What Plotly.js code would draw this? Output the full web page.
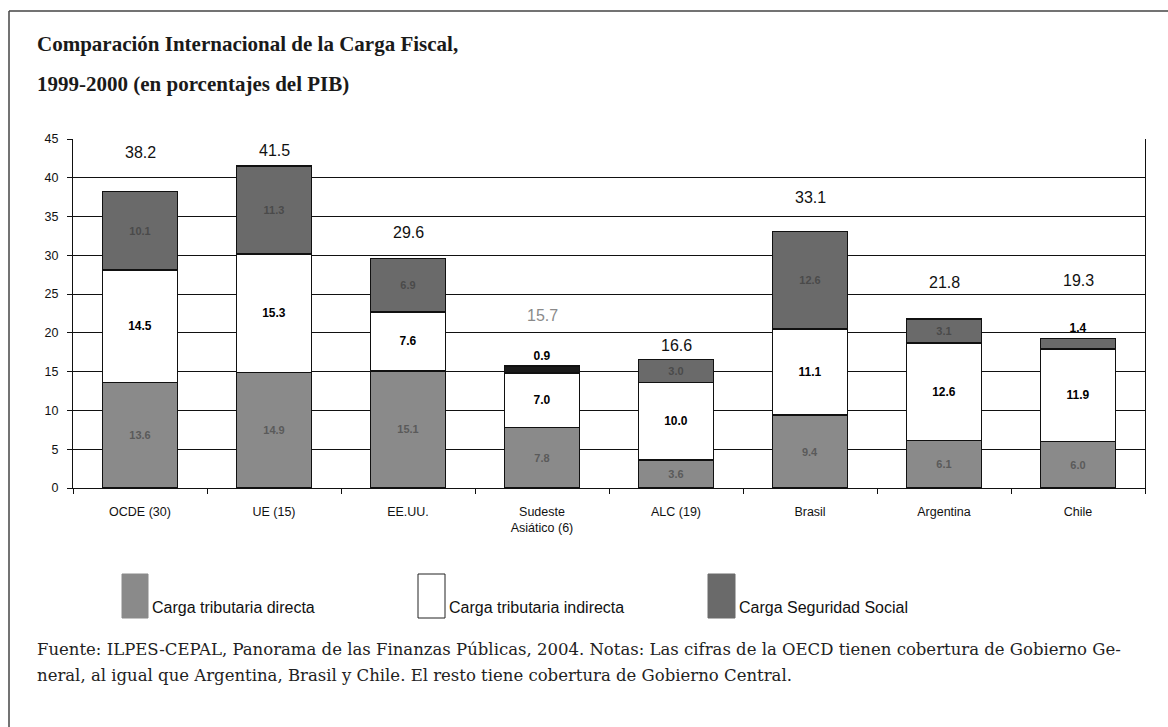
<!DOCTYPE html>
<html>
<head>
<meta charset="utf-8">
<script src="https://cdn.plot.ly/plotly-3.0.1.min.js"></script>
<style>
html,body{margin:0;padding:0;background:#fff;}
#chart{width:1168px;height:727px;}
</style>
</head>
<body>
<div id="chart"></div>
<script>
// ---- data ----
const categories = ["OCDE (30)", "UE (15)", "EE.UU.", "Sudeste<br>Asiático (6)", "ALC (19)", "Brasil", "Argentina", "Chile"];
const directa   = [13.6, 14.9, 15.1, 7.8, 3.6, 9.4, 6.1, 6.0];
const indirecta = [14.5, 15.3, 7.6, 7.0, 10.0, 11.1, 12.6, 11.9];
const seguridad = [10.1, 11.3, 6.9, 0.9, 3.0, 12.6, 3.1, 1.4];
const totales   = [38.2, 41.5, 29.6, 15.7, 16.6, 33.1, 21.8, 19.3];
const seriesNames = ["Carga tributaria directa", "Carga tributaria indirecta", "Carga Seguridad Social"];
const yTicks = [0, 5, 10, 15, 20, 25, 30, 35, 40, 45];

// ---- styling / placement (not data) ----
const totalLabelLift = [5.1, 2.0, 3.3, 6.5, 1.8, 4.4, 4.7, 7.5];
const ssTextPos = ["inside","inside","inside","outside","inside","inside","inside","outside"];
const colDirect = "#8a8a8a", colSS = "#6a6a6a";

const L = 73, R = 1145, T = 139, B = 488;
const px = v => (v - L) / (R - L);
const py = v => (B - v) / (B - T);

const fmt = a => a.map(v => v.toFixed(1));
const lineStyle = {color: "#111", width: 1.5};

const traces = [
  {type: "bar", name: seriesNames[0], x: categories, y: directa, text: fmt(directa),
   textposition: "inside", insidetextanchor: "middle", textangle: 0,
   textfont: {family: "Arial", size: 11, color: "#5a5a5a", weight: "bold"},
   marker: {color: colDirect, line: lineStyle}, width: 0.56},
  {type: "bar", name: seriesNames[1], x: categories, y: indirecta, text: fmt(indirecta),
   textposition: "inside", insidetextanchor: "middle", textangle: 0,
   textfont: {family: "Arial", size: 12, color: "#000", weight: "bold"},
   marker: {color: "#ffffff", line: lineStyle}, width: 0.56},
  {type: "bar", name: seriesNames[2], x: categories, y: seguridad, text: fmt(seguridad),
   textposition: ssTextPos, insidetextanchor: "middle", textangle: 0,
   insidetextfont: {family: "Arial", size: 11, color: "#4a4a4a", weight: "bold"},
   outsidetextfont: {family: "Arial", size: 12, color: "#000", weight: "bold"},
   marker: {color: seguridad.map((v,i) => v < 1 ? "#1a1a1a" : colSS), line: lineStyle}, width: 0.56,
   cliponaxis: false}
];

const annotations = [];
totales.forEach((t, i) => {
  annotations.push({x: categories[i], y: t + totalLabelLift[i], xref: "x", yref: "y",
    text: t.toFixed(1), showarrow: false,
    font: {family: "Arial", size: 16, color: i === 3 ? "#8a8a8a" : "#111"}});
});

// title
annotations.push({xref: "paper", yref: "paper", x: px(35), y: py(44), xanchor: "left", yanchor: "middle",
  text: "Comparación Internacional de la Carga Fiscal,", showarrow: false,
  font: {family: "Liberation Serif", size: 21, color: "#1a1a1a", weight: "bold"}});
annotations.push({xref: "paper", yref: "paper", x: px(35), y: py(84), xanchor: "left", yanchor: "middle",
  text: "1999-2000 (en porcentajes del PIB)", showarrow: false,
  font: {family: "Liberation Serif", size: 21, color: "#1a1a1a", weight: "bold"}});

// footnote
annotations.push({xref: "paper", yref: "paper", x: px(35), y: py(649), xanchor: "left", yanchor: "middle",
  text: "Fuente: ILPES-CEPAL, Panorama de las Finanzas Públicas, 2004. Notas: Las cifras de la OECD tienen cobertura de Gobierno Ge-",
  showarrow: false, font: {family: "DejaVu Serif", size: 16.5, color: "#222"}});
annotations.push({xref: "paper", yref: "paper", x: px(35), y: py(675), xanchor: "left", yanchor: "middle",
  text: "neral, al igual que Argentina, Brasil y Chile. El resto tiene cobertura de Gobierno Central.",
  showarrow: false, font: {family: "DejaVu Serif", size: 16.5, color: "#222"}});

// custom legend
const legendBoxes = [[122, 148], [418, 445], [708, 735]];
const legendFill = [colDirect, "#ffffff", colSS];
const shapes = [];
legendBoxes.forEach((b, i) => {
  shapes.push({type: "rect", xref: "paper", yref: "paper", x0: px(b[0]), x1: px(b[1]), y0: py(618), y1: py(574),
    fillcolor: legendFill[i], line: {color: i === 1 ? "#222" : legendFill[i], width: 1}});
  annotations.push({xref: "paper", yref: "paper", x: px(b[1] + 2), y: py(607), xanchor: "left", yanchor: "middle",
    text: seriesNames[i], showarrow: false, font: {family: "Arial", size: 16, color: "#111"}});
});

// frame lines
shapes.push({type: "line", xref: "paper", yref: "paper", x0: px(9), x1: px(1168), y0: py(11), y1: py(11), line: {color: "#444", width: 1.5}});
shapes.push({type: "line", xref: "paper", yref: "paper", x0: px(9), x1: px(9), y0: py(11), y1: py(727), line: {color: "#444", width: 1.5}});

const layout = {
  width: 1168, height: 727,
  margin: {l: L, r: 1168 - R, t: T, b: 727 - B},
  paper_bgcolor: "#fff", plot_bgcolor: "#fff",
  barmode: "stack", showlegend: false,
  font: {family: "Arial", color: "#111"},
  xaxis: {type: "category", tickson: "boundaries", ticks: "outside", ticklen: 5, tickcolor: "#111",
    ticklabelstandoff: 12,
    showgrid: false, showline: true, linecolor: "#111", linewidth: 1,
    tickfont: {family: "Arial", size: 12.5, color: "#111"}, fixedrange: true},
  yaxis: {range: [0, 45], tickvals: yTicks, ticks: "outside", ticklen: 5, tickcolor: "#111",
    ticklabelstandoff: 6,
    showgrid: true, gridcolor: "#111", gridwidth: 1, zeroline: false,
    showline: true, mirror: true, linecolor: "#111", linewidth: 1,
    tickfont: {family: "Arial", size: 12.5, color: "#111"}, fixedrange: true},
  annotations: annotations,
  shapes: shapes,
  uniformtext: {mode: false}
};

Plotly.newPlot("chart", traces, layout, {displayModeBar: false, staticPlot: true});
</script>
</body>
</html>
